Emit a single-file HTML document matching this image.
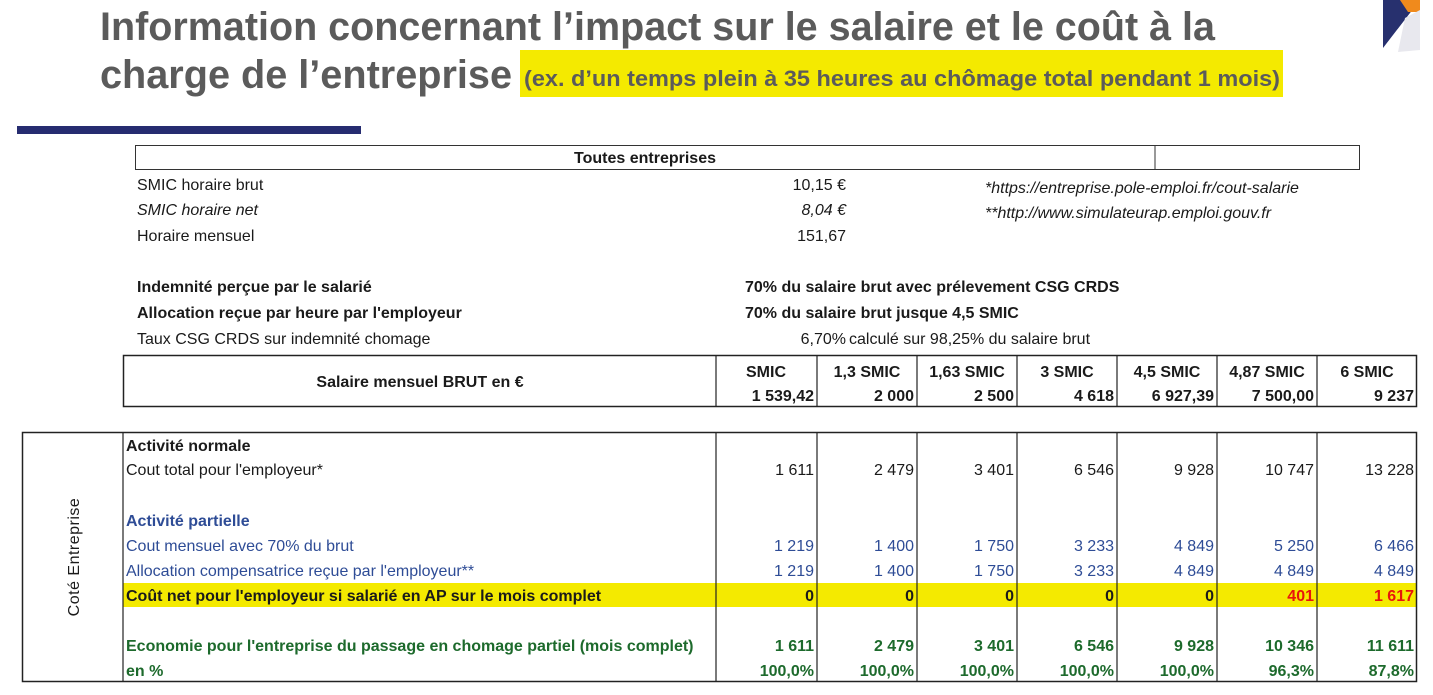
<!DOCTYPE html>
<html><head><meta charset="utf-8"><style>
html,body{margin:0;padding:0;background:#fff;}
svg{display:block;font-family:"Liberation Sans",sans-serif;}
.n{font-size:16px;fill:#1a1a1a}
.b{font-weight:bold}
.bl{fill:#2e4c96}
.gr{fill:#1d6a2c}
.rd{fill:#e8150c}
</style></head><body>
<svg width="1433" height="695" viewBox="0 0 1433 695">
<polygon points="1383,0 1420,0 1383,48" fill="#27306e"/>
<polygon points="1400,0 1420,0 1420,12 1408,12" fill="#f08a1c"/>
<polygon points="1405,18 1420,10 1420,50 1398,52" fill="#e8e8ee"/>
<text x="100" y="40" font-size="40" font-weight="bold" fill="#5b5b5b" textLength="1115" lengthAdjust="spacingAndGlyphs">Information concernant l’impact sur le salaire et le coût à la</text>
<rect x="520" y="50" width="763" height="47" fill="#f4ea00"/>
<text x="100" y="88" font-size="40" font-weight="bold" fill="#5b5b5b" textLength="412" lengthAdjust="spacingAndGlyphs">charge de l’entreprise</text>
<text x="524" y="86" font-size="22" font-weight="bold" fill="#5b5b5b" textLength="756" lengthAdjust="spacingAndGlyphs">(ex. d’un temps plein à 35 heures au chômage total pendant 1 mois)</text>
<rect x="17" y="126" width="344" height="8" fill="#262c70"/>

<rect x="135.5" y="145.5" width="1224" height="24" fill="none" stroke="#333" stroke-width="1"/>
<line x1="1155" y1="145" x2="1155" y2="170" stroke="#333"/>
<text x="645" y="163" text-anchor="middle" class="n b">Toutes entreprises</text>
<text x="137" y="190" class="n">SMIC horaire brut</text>
<text x="846" y="190" text-anchor="end" class="n">10,15 €</text>
<text x="137" y="215" class="n" font-style="italic">SMIC horaire net</text>
<text x="846" y="215" text-anchor="end" class="n" font-style="italic">8,04 €</text>
<text x="137" y="241" class="n">Horaire mensuel</text>
<text x="846" y="241" text-anchor="end" class="n">151,67</text>
<text x="985" y="193" class="n" font-style="italic">*https://entreprise.pole-emploi.fr/cout-salarie</text>
<text x="985" y="218" class="n" font-style="italic">**http://www.simulateurap.emploi.gouv.fr</text>
<text x="137" y="292" class="n b">Indemnité perçue par le salarié</text>
<text x="745" y="292" class="n b">70% du salaire brut avec prélevement CSG CRDS</text>
<text x="137" y="318" class="n b">Allocation reçue par heure par l'employeur</text>
<text x="745" y="318" class="n b">70% du salaire brut jusque 4,5 SMIC</text>
<text x="137" y="344" class="n">Taux CSG CRDS sur indemnité chomage</text>
<text x="846" y="344" text-anchor="end" class="n">6,70%</text>
<text x="849" y="344" class="n">calculé sur 98,25% du salaire brut</text>

<rect x="123.5" y="355.5" width="1293" height="51" fill="none" stroke="#222" stroke-width="1.5"/>
<g stroke="#222" stroke-width="1.2">
<line x1="716" y1="355" x2="716" y2="406"/><line x1="817" y1="355" x2="817" y2="406"/>
<line x1="917" y1="355" x2="917" y2="406"/><line x1="1017" y1="355" x2="1017" y2="406"/>
<line x1="1117" y1="355" x2="1117" y2="406"/><line x1="1217" y1="355" x2="1217" y2="406"/>
<line x1="1317" y1="355" x2="1317" y2="406"/>
</g>
<text x="420" y="387" text-anchor="middle" class="n b">Salaire mensuel BRUT en €</text>
<g class="n b" text-anchor="middle">
<text x="766" y="377">SMIC</text><text x="867" y="377">1,3 SMIC</text><text x="967" y="377">1,63 SMIC</text>
<text x="1067" y="377">3 SMIC</text><text x="1167" y="377">4,5 SMIC</text><text x="1267" y="377">4,87 SMIC</text><text x="1367" y="377">6 SMIC</text>
</g>
<g class="n b" text-anchor="end">
<text x="814" y="401">1 539,42</text><text x="914" y="401">2 000</text><text x="1014" y="401">2 500</text>
<text x="1114" y="401">4 618</text><text x="1214" y="401">6 927,39</text><text x="1314" y="401">7 500,00</text><text x="1414" y="401">9 237</text>
</g>

<rect x="123" y="583" width="1294" height="24" fill="#f4ea00"/>
<rect x="22.5" y="432.5" width="1394" height="249" fill="none" stroke="#222" stroke-width="1.5"/>
<g stroke="#222" stroke-width="1.2">
<line x1="123" y1="432" x2="123" y2="682"/><line x1="716" y1="432" x2="716" y2="682"/>
<line x1="817" y1="432" x2="817" y2="682"/><line x1="917" y1="432" x2="917" y2="682"/>
<line x1="1017" y1="432" x2="1017" y2="682"/><line x1="1117" y1="432" x2="1117" y2="682"/>
<line x1="1217" y1="432" x2="1217" y2="682"/><line x1="1317" y1="432" x2="1317" y2="682"/>
</g>
<text transform="translate(79,557) rotate(-90)" text-anchor="middle" class="n" letter-spacing="0.5">Coté Entreprise</text>
<text x="126" y="451" class="n b">Activité normale</text>
<text x="126" y="475" class="n">Cout total pour l'employeur*</text>
<text x="126" y="526" class="n b bl">Activité partielle</text>
<text x="126" y="551" class="n bl">Cout mensuel avec 70% du brut</text>
<text x="126" y="576" class="n bl">Allocation compensatrice reçue par l'employeur**</text>
<text x="126" y="601" class="n b">Coût net pour l'employeur si salarié en AP sur le mois complet</text>
<text x="126" y="651" class="n b gr">Economie pour l'entreprise du passage en chomage partiel (mois complet)</text>
<text x="126" y="676" class="n b gr">en %</text>

<g class="n" text-anchor="end">
<text x="814" y="475">1 611</text><text x="914" y="475">2 479</text><text x="1014" y="475">3 401</text><text x="1114" y="475">6 546</text><text x="1214" y="475">9 928</text><text x="1314" y="475">10 747</text><text x="1414" y="475">13 228</text>
</g>
<g class="n bl" text-anchor="end">
<text x="814" y="551">1 219</text><text x="914" y="551">1 400</text><text x="1014" y="551">1 750</text><text x="1114" y="551">3 233</text><text x="1214" y="551">4 849</text><text x="1314" y="551">5 250</text><text x="1414" y="551">6 466</text>
<text x="814" y="576">1 219</text><text x="914" y="576">1 400</text><text x="1014" y="576">1 750</text><text x="1114" y="576">3 233</text><text x="1214" y="576">4 849</text><text x="1314" y="576">4 849</text><text x="1414" y="576">4 849</text>
</g>
<g class="n b" text-anchor="end">
<text x="814" y="601">0</text><text x="914" y="601">0</text><text x="1014" y="601">0</text><text x="1114" y="601">0</text><text x="1214" y="601">0</text>
<text x="1314" y="601" class="rd">401</text><text x="1414" y="601" class="rd">1 617</text>
</g>
<g class="n b gr" text-anchor="end">
<text x="814" y="651">1 611</text><text x="914" y="651">2 479</text><text x="1014" y="651">3 401</text><text x="1114" y="651">6 546</text><text x="1214" y="651">9 928</text><text x="1314" y="651">10 346</text><text x="1414" y="651">11 611</text>
<text x="814" y="676">100,0%</text><text x="914" y="676">100,0%</text><text x="1014" y="676">100,0%</text><text x="1114" y="676">100,0%</text><text x="1214" y="676">100,0%</text><text x="1314" y="676">96,3%</text><text x="1414" y="676">87,8%</text>
</g>
</svg>
</body></html>
